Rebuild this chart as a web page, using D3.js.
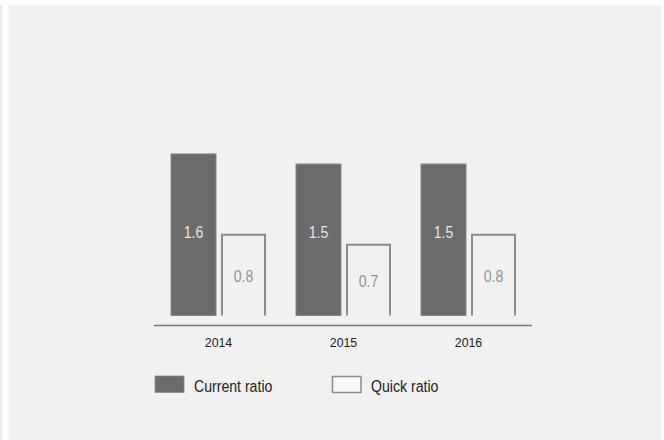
<!DOCTYPE html>
<html>
<head>
<meta charset="utf-8">
<script src="https://cdn.jsdelivr.net/npm/d3@7"></script>
<style>
  html, body { margin: 0; padding: 0; background: #fff; }
</style>
</head>
<body>
<div id="chart"></div>
<script>
// data
const years = ["2014", "2015", "2016"];
const currentRatio = [1.6, 1.5, 1.5];
const quickRatio = [0.8, 0.7, 0.8];
const seriesNames = ["Current ratio", "Quick ratio"];

const width = 664;
const height = 440;
const font = "\"Liberation Sans\", Arial, sans-serif";
const narrow = 0.83; // the original font is a condensed sans

const data = years.map((y, i) => ({year: y, current: currentRatio[i], quick: quickRatio[i]}));

const svg = d3.select("#chart")
    .append("svg")
    .attr("width", width)
    .attr("height", height)
    .attr("font-family", font);

// panel background
svg.append("rect")
    .attr("x", 0).attr("y", 5)
    .attr("width", 2.5).attr("height", height - 5)
    .attr("fill", "#ececec");
svg.append("rect")
    .attr("x", 8.5).attr("y", 5)
    .attr("width", 653).attr("height", height - 5)
    .attr("fill", "#f1f1f1");

// scales
const x0 = d3.scaleBand()
    .domain(years)
    .range([156, 531])
    .paddingInner(0.24)
    .paddingOuter(0.12);

const x1 = d3.scaleBand()
    .domain(["current", "quick"])
    .range([0, x0.bandwidth()])
    .paddingInner(0.1);

const y = d3.scaleLinear()
    .domain([0, 2])
    .range([315.5, 113.5]);

const groups = svg.append("g")
    .selectAll("g")
    .data(data)
    .join("g")
    .attr("transform", d => `translate(${x0(d.year)},0)`);

// current ratio bars (filled)
groups.append("rect")
    .attr("x", x1("current"))
    .attr("y", d => y(d.current))
    .attr("width", x1.bandwidth())
    .attr("height", d => y(0) - y(d.current))
    .attr("fill", "#6b6b6b")
    .attr("stroke", "#8a8a8a")
    .attr("stroke-width", 1);

// quick ratio bars (outline, open at the bottom)
groups.append("path")
    .attr("d", d => {
        const l = x1("quick") + 1, r = x1("quick") + x1.bandwidth() - 1;
        return `M${l},${y(0)}V${y(d.quick)}H${r}V${y(0)}`;
    })
    .attr("fill", "none")
    .attr("stroke", "#8c8c8c")
    .attr("stroke-width", 2);

// value labels
groups.append("text")
    .attr("transform", `translate(${x1("current") + x1.bandwidth() / 2},${y(0.8) + 3}) scale(${narrow},1)`)
    .attr("text-anchor", "middle")
    .attr("font-size", 17)
    .attr("fill", "#e6e6e6")
    .text(d => d3.format(".1f")(d.current));

groups.append("text")
    .attr("transform", d => `translate(${x1("quick") + x1.bandwidth() / 2},${(y(0) + y(d.quick)) / 2 + 7}) scale(${narrow},1)`)
    .attr("text-anchor", "middle")
    .attr("font-size", 17)
    .attr("fill", "#939393")
    .text(d => d3.format(".1f")(d.quick));

// x axis
const xAxis = svg.append("g")
    .attr("transform", "translate(0,325.5)")
    .call(d3.axisBottom(x0).tickSize(0).tickPadding(12));
xAxis.select(".domain")
    .attr("d", "M154,0H532")
    .attr("stroke", "#7a7a7a")
    .attr("stroke-width", 1.6);
xAxis.selectAll("text")
    .attr("font-family", font)
    .attr("font-size", 13)
    .attr("fill", "#222")
    .attr("transform", `scale(0.95,1)`)
    .attr("x", d => 0);

// legend
const legend = svg.append("g")
    .selectAll("g")
    .data(seriesNames)
    .join("g")
    .attr("transform", (d, i) => `translate(${[155, 332][i]},376)`);

legend.append("rect")
    .attr("x", (d, i) => i ? 0.5 : 0)
    .attr("y", (d, i) => i ? 0.5 : 0)
    .attr("width", (d, i) => i ? 28.5 : 29)
    .attr("height", (d, i) => i ? 16 : 16.5)
    .attr("fill", (d, i) => i ? "#f8f8f8" : "#6b6b6b")
    .attr("stroke", "#8a8a8a")
    .attr("stroke-width", (d, i) => i ? 1.5 : 0.8);

legend.append("text")
    .attr("transform", `translate(39,15.5) scale(${narrow},1)`)
    .attr("font-size", 17)
    .attr("fill", "#222")
    .text(d => d);
</script>
</body>
</html>
